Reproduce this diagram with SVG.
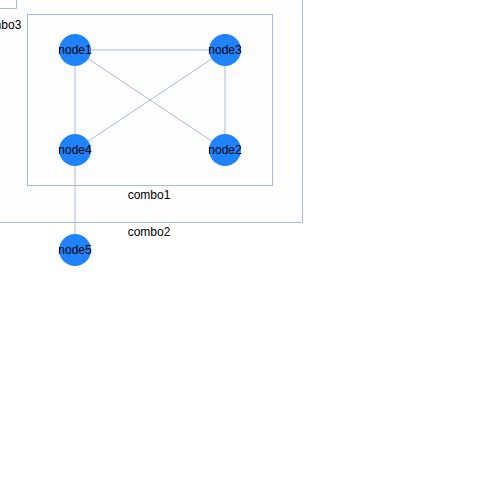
<svg xmlns="http://www.w3.org/2000/svg" width="500" height="500" viewBox="0 0 500 500">
<style>
.combo{fill:#fdfdfd;stroke:#a9b9dc;stroke-width:1}
.edge{stroke:#a9b9dc;stroke-width:1;fill:none}
.node{fill:#1f83ff}
text{font-family:"Liberation Sans",Arial,sans-serif;font-size:12px;fill:#000;text-anchor:middle}
</style>
<rect width="500" height="500" fill="#fff"/>
<g id="combo2">
<rect class="combo" x="-20" y="-20" width="322.5" height="242.5"/>
<text x="149" y="236">combo2</text>
</g>
<g id="combo3">
<rect class="combo" x="-60" y="-60" width="76.5" height="68.5"/>
<text x="0" y="29">combo3</text>
</g>
<g id="combo1">
<rect class="combo" x="27.5" y="14.5" width="245" height="171"/>
<text x="149" y="199">combo1</text>
</g>
<g id="edges">
<line class="edge" x1="75" y1="50" x2="225" y2="50"/>
<line class="edge" x1="75" y1="50" x2="75" y2="150"/>
<line class="edge" x1="75" y1="50" x2="225" y2="150"/>
<line class="edge" x1="225" y1="50" x2="75" y2="150"/>
<line class="edge" x1="225" y1="50" x2="225" y2="150"/>
<line class="edge" x1="75" y1="150" x2="75" y2="250"/>
</g>
<g id="node1"><circle class="node" cx="75" cy="50" r="16"/><text x="75" y="54">node1</text></g>
<g id="node3"><circle class="node" cx="225" cy="50" r="16"/><text x="225" y="54">node3</text></g>
<g id="node4"><circle class="node" cx="75" cy="150" r="16"/><text x="75" y="154">node4</text></g>
<g id="node2"><circle class="node" cx="225" cy="150" r="16"/><text x="225" y="154">node2</text></g>
<g id="node5"><circle class="node" cx="75" cy="250" r="16"/><text x="75" y="254">node5</text></g>
</svg>
